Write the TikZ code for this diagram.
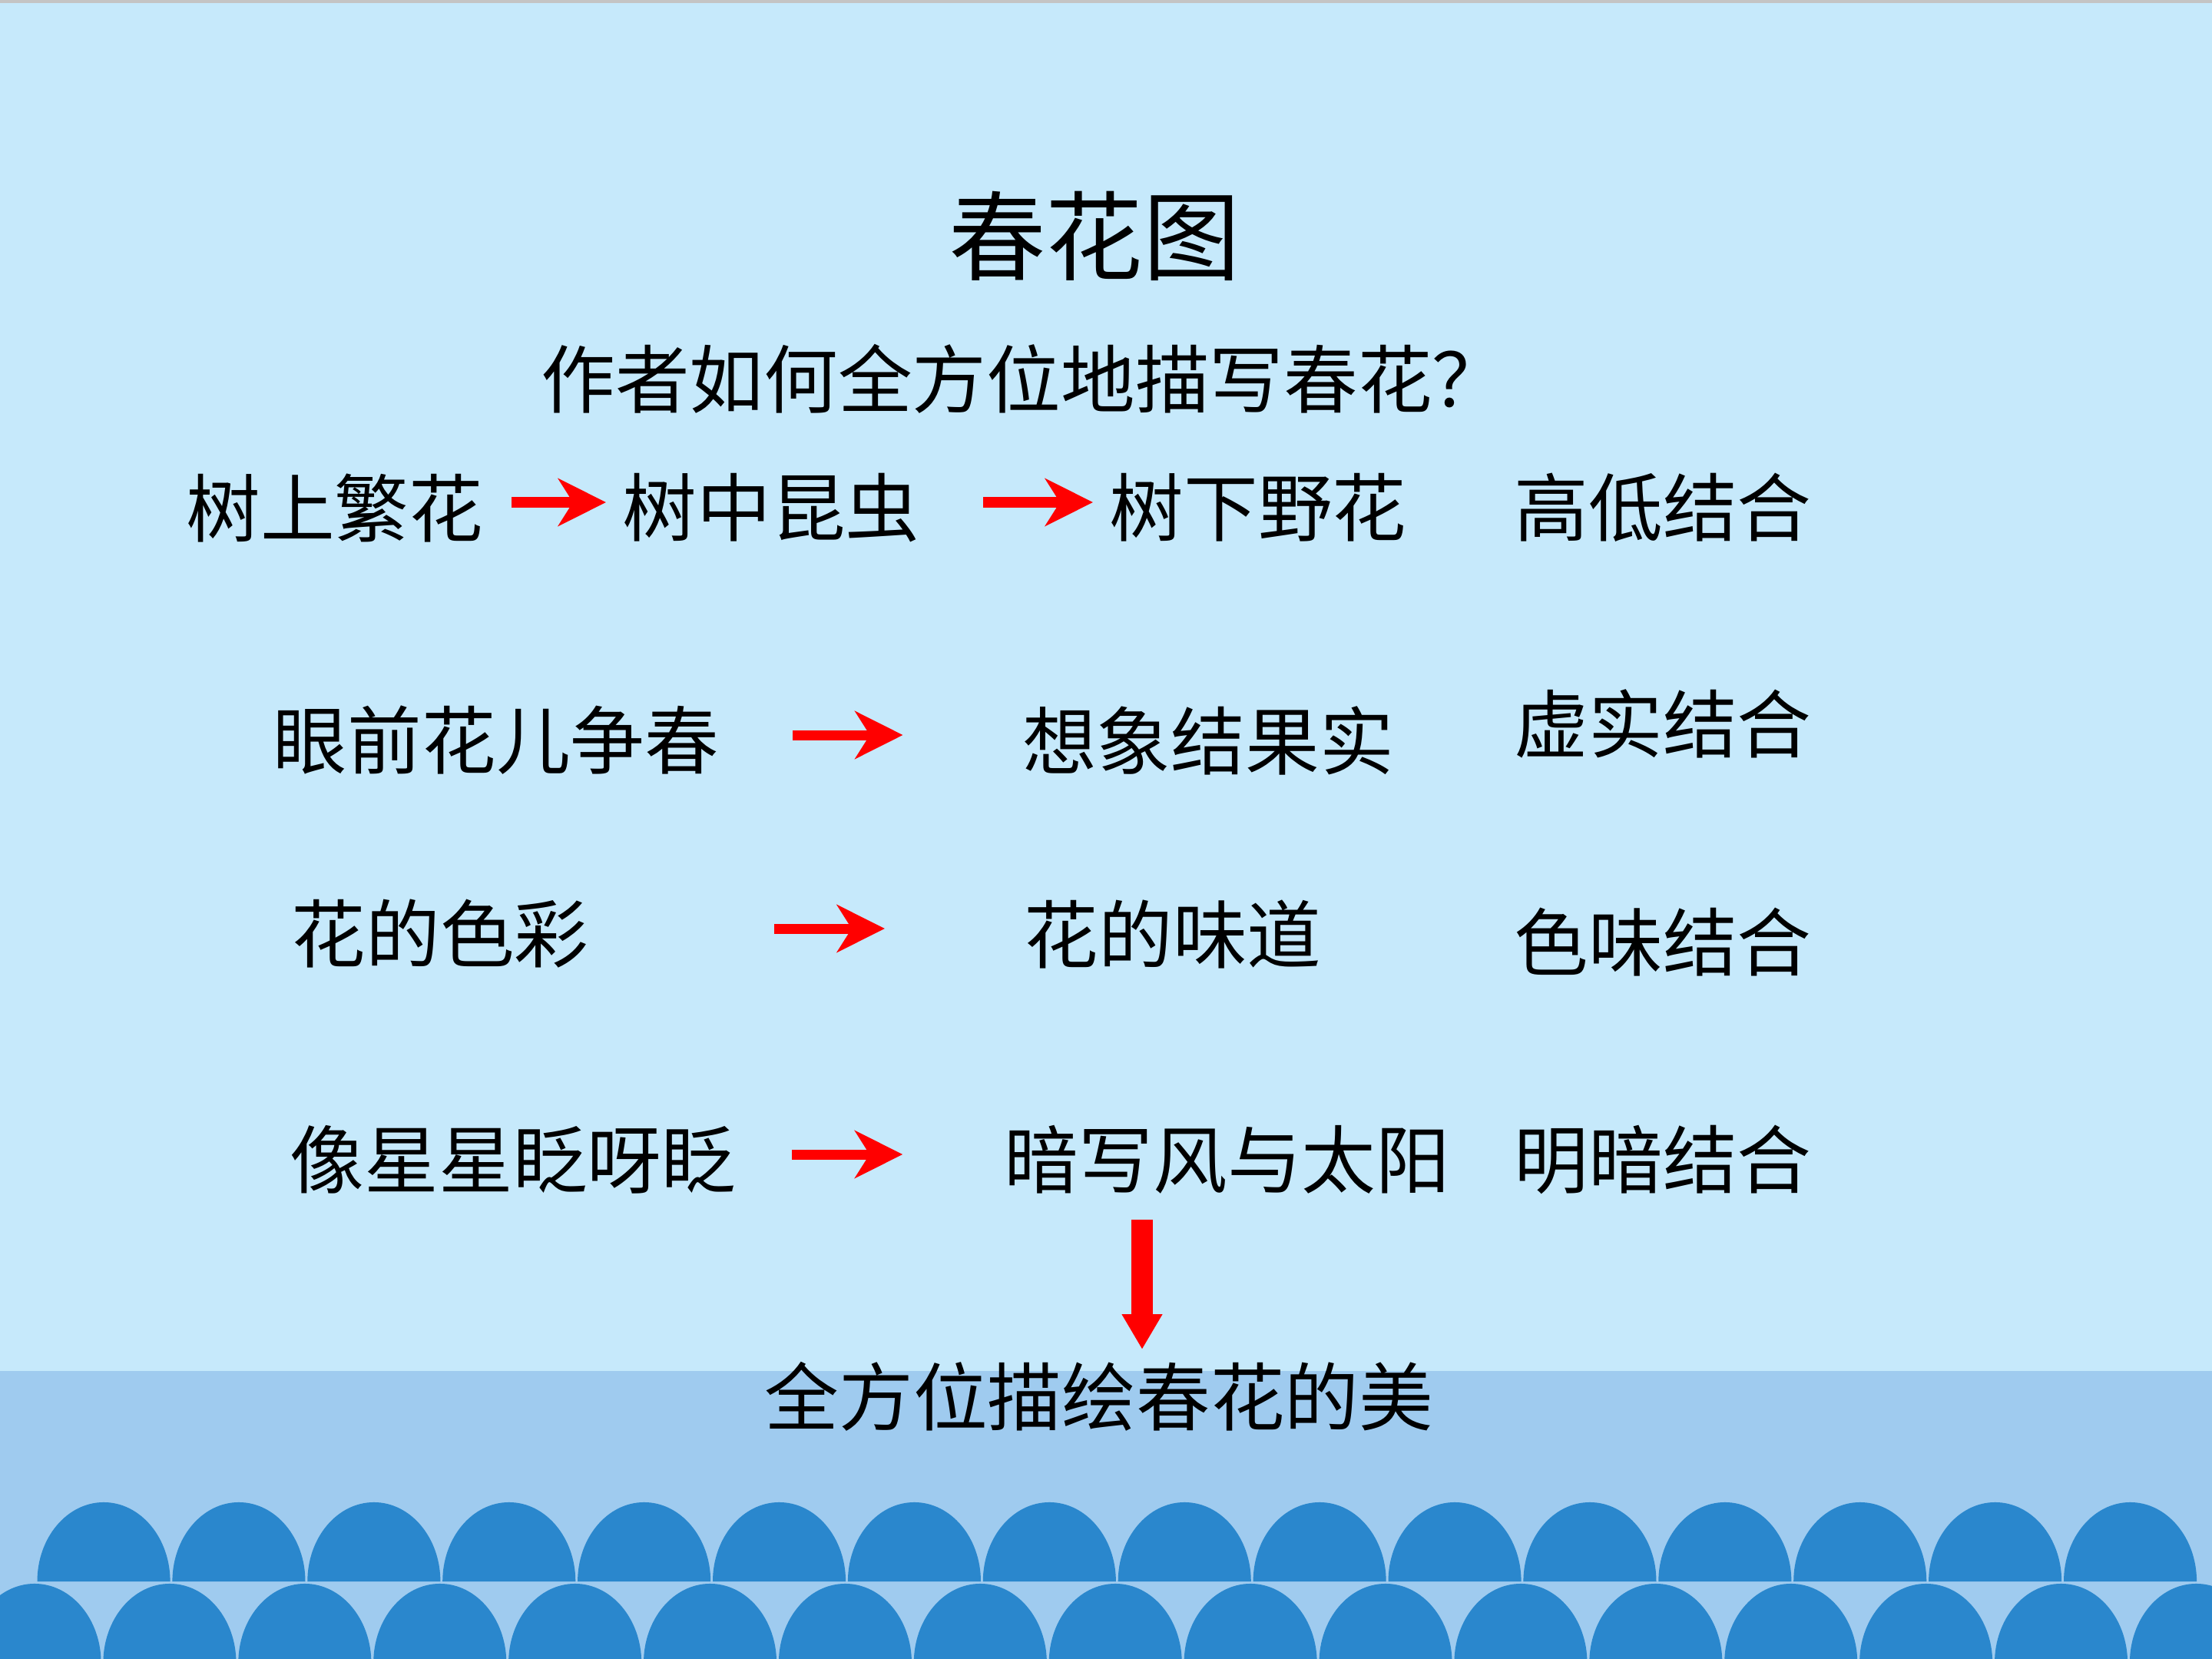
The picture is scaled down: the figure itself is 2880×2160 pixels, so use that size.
\documentclass[tikz,border=0pt]{standalone}
\usepackage{fontspec}
\setmainfont{Noto Sans CJK SC}
\usepackage{tikz}
\usetikzlibrary{arrows.meta}
\definecolor{skyblue}{HTML}{C6E9FB}
\definecolor{seablue}{HTML}{9FCBEF}
\definecolor{waveblue}{HTML}{2A87CD}
\definecolor{edgegray}{HTML}{C4C4C4}
\tikzset{
	textnode/.style={
			inner sep=0pt,
			text=black,
			font=\fontsize{27.5pt}{33pt}\selectfont
		},
	titlenode/.style={
			textnode,
			font=\fontsize{36pt}{43pt}\selectfont
		},
	redarrow/.style={
			draw=red,
			line width=3.7pt,
			transform canvas={yshift=0.7mm},
			-{Stealth[length=17.9pt,width=18pt,inset=5.7pt,line width=0pt]}
		},
	downarrow/.style={
			draw=red,
			line width=7.7pt,
			-{Triangle[length=12.8pt,width=15.1pt,line width=0pt]}
		},
	wave/.style={
			fill=waveblue,
			draw=none
		}
}

\begin{document}
\begin{tikzpicture}[x=0.01cm,y=-0.01cm]
\useasboundingbox (0,0) rectangle (2880,2160);
% background and sea
\fill[skyblue] (0,0) rectangle (2880,2160);
\fill[edgegray] (0,0) rectangle (2880,4);
\fill[seablue] (0,1785) rectangle (2880,2160);
\begin{scope}
\clip (0,0) rectangle (2880,2160);
\foreach \k in {0,...,15}
	\fill[wave] ({48.5+175.9*\k},2059) arc[start angle=180,end angle=0,x radius=8.65mm,y radius=10.3mm] -- cycle;
\foreach \k in {0,...,16}
	\fill[wave] ({-41.5+175.9*\k},2165) arc[start angle=180,end angle=0,x radius=8.65mm,y radius=10.3mm] -- cycle;
\end{scope}

\node[titlenode] (title) at (1425,307) {春花图};
\node[textnode] (quest) at (1333,493) {作者如何全方位地描写春花？};

\node[textnode] (tA) at (436,661) {树上繁花};
\node[textnode] (tB) at (1004,661) {树中昆虫};
\node[textnode] (tC) at (1638,661) {树下野花};
\node[textnode] (tD) at (2165,661) {高低结合};

\node[textnode] (tE) at (646,964) {眼前花儿争春};
\node[textnode] (tF) at (1573,964) {想象结果实};
\node[textnode] (tG) at (2165,942) {虚实结合};

\node[textnode] (tH) at (573,1216) {花的色彩};
\node[textnode] (tI) at (1527,1216) {花的味道};
\node[textnode] (tJ) at (2165,1227) {色味结合};

\node[textnode] (tK) at (668,1510) {像星星眨呀眨};
\node[textnode] (tL) at (1598,1510) {暗写风与太阳};
\node[textnode] (tM) at (2165,1510) {明暗结合};

\node[textnode] (tSum) at (1431,1818) {全方位描绘春花的美};

\draw[redarrow, shorten <=3.6mm, shorten >=2.1mm] (tA) -- (tB);
\draw[redarrow, shorten <=8.2mm, shorten >=2.1mm] (tB) -- (tC);
\draw[redarrow, shorten <=9.5mm, shorten >=15.5mm] (tE) -- (tF);
\draw[redarrow, shorten <=24.1mm, shorten >=18.1mm] (tH) -- (tI);
\draw[redarrow, shorten <=7.2mm, shorten >=13.2mm] (tK) -- (tL);

\coordinate (dtop) at (1487,1588);
\draw[downarrow, shorten >=1.6mm] (dtop) -- (dtop |- tSum.north);
\end{tikzpicture}
\end{document}
